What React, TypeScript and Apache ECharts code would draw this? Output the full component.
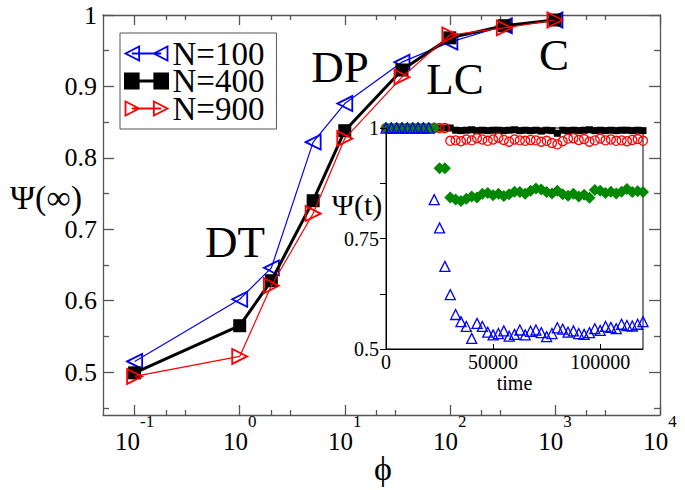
import React, { useEffect, useRef } from 'react';
import * as echarts from 'echarts';

// ---- main plot data ----
const phi = [0.1, 1, 2, 5, 10, 35, 100, 330, 1000];
const psiN100 = [0.515, 0.602, 0.646, 0.822, 0.876, 0.934, 0.962, 0.985, 0.993];
const psiN400 = [0.499, 0.565, 0.628, 0.74, 0.838, 0.923, 0.968, 0.985, 0.993];
const psiN900 = [0.494, 0.522, 0.621, 0.722, 0.827, 0.913, 0.972, 0.982, 0.993];

const xMajorTicks = [0.1, 1, 10, 100, 1000, 10000];
const xMinorTicks = [0.2, 0.3, 2, 3, 20, 30, 200, 300, 2000, 3000];
const yMajorTicks = [0.5, 0.6, 0.7, 0.8, 0.9, 1];
const yMinorTicks = [0.45, 0.55, 0.65, 0.75, 0.85, 0.95];

// ---- inset data ----
const insetTime = [
  0, 2500, 5000, 7500, 10000, 12500, 15000, 17500, 20000, 22500, 25000, 27500, 30000,
  32500, 35000, 37500, 40000, 42500, 45000, 47500, 50000, 52500, 55000, 57500, 60000,
  62500, 65000, 67500, 70000, 72500, 75000, 77500, 80000, 82500, 85000, 87500, 90000,
  92500, 95000, 97500, 100000, 102500, 105000, 107500, 110000, 112500, 115000, 117500, 120000,
];
const insetBlack = [
  1, 1, 1, 1, 1, 1, 1, 1, 1, 1, 1, 1, 1,
  0.995, 0.994, 0.995, 0.996, 0.994, 0.995, 0.994, 0.995, 0.995, 0.994, 0.995, 0.996,
  0.994, 0.995, 0.994, 0.995, 0.993, 0.995, 0.994, 0.988, 0.995, 0.994, 0.995, 0.994,
  0.995, 0.996, 0.994, 0.995, 0.994, 0.995, 0.994, 0.995, 0.995, 0.994, 0.995, 0.994,
];
const insetRed = [
  1, 1, 1, 1, 1, 1, 1, 1, 1, 1, 1, 1,
  0.971, 0.972, 0.97, 0.974, 0.972, 0.977, 0.974, 0.971, 0.974, 0.978, 0.973, 0.969,
  0.974, 0.972, 0.971, 0.973, 0.972, 0.969, 0.971, 0.966, 0.963, 0.97, 0.976, 0.977,
  0.973, 0.975, 0.969, 0.972, 0.976, 0.972, 0.974, 0.971, 0.972, 0.97, 0.973, 0.975, 0.971,
];
const insetGreen = [
  1, 1, 1, 1, 1, 1, 1, 1, 1, 1,
  0.909, 0.909, 0.843, 0.838, 0.835, 0.84, 0.845, 0.843, 0.851, 0.853, 0.848, 0.851,
  0.846, 0.85, 0.856, 0.855, 0.851, 0.858, 0.863, 0.861, 0.855, 0.852, 0.858, 0.85,
  0.847, 0.851, 0.845, 0.849, 0.842, 0.86, 0.858, 0.853, 0.856, 0.852, 0.856, 0.862,
  0.855, 0.857, 0.855,
];
const insetBlue = [
  1, 1, 1, 1, 1, 1, 1, 1, 1,
  0.838, 0.774, 0.687, 0.623, 0.578, 0.562, 0.551, 0.524, 0.558, 0.551, 0.538, 0.532,
  0.535, 0.541, 0.529, 0.533, 0.543, 0.532, 0.54, 0.543, 0.537, 0.528, 0.535, 0.548,
  0.545, 0.538, 0.541, 0.535, 0.533, 0.537, 0.546, 0.542, 0.551, 0.549, 0.546, 0.556,
  0.553, 0.552, 0.556, 0.562,
];

const FONT = 'Liberation Serif';
const AXIS_GRAY = '#555';
const BLUE = '#0000ff';
const RED = '#ff0000';
const GREEN = '#008800';

const pairs = (xs: number[], ys: number[]) => xs.map((x, i) => [x, ys[i]]);

export default function App() {
  const ref = useRef<HTMLDivElement>(null);
  useEffect(() => {
    if (!ref.current) return;
    const chart = echarts.init(ref.current, undefined, { renderer: 'svg' });
    const axLine = { color: AXIS_GRAY, width: 1.3 };
    const logBase = { type: 'log', logBase: 10, gridIndex: 0, min: 0.05, max: 10000, splitLine: { show: false } };
    const yBase = { type: 'value', gridIndex: 0, min: 0.44, max: 1, splitLine: { show: false } };
    const option: any = {
      animation: false,
      backgroundColor: '#ffffff',
      textStyle: { fontFamily: FONT },
      grid: [
        { left: 103, top: 15, width: 557, height: 400, show: false },
        {
          left: 386, top: 128, width: 257, height: 221, show: true,
          backgroundColor: '#ffffff', borderColor: '#000', borderWidth: 1, z: 8,
        },
      ],
      xAxis: [
        {
          ...logBase, position: 'bottom',
          axisLine: { show: true, lineStyle: axLine },
          axisTick: { show: true, inside: true, length: 10, customValues: xMajorTicks, lineStyle: axLine },
          axisLabel: {
            show: true, customValues: xMajorTicks, margin: 14,
            formatter: (v: number) => `{b|10}{s|${Math.round(Math.log10(v))}}`,
            rich: {
              b: { fontSize: 25, fontFamily: FONT, color: '#000', lineHeight: 25 },
              s: { fontSize: 17, fontFamily: FONT, color: '#000', lineHeight: 17, padding: [0, 0, 40, 0] },
            },
          },
        },
        {
          ...logBase, position: 'bottom',
          axisLine: { show: false },
          axisTick: { show: true, inside: true, length: 5, customValues: xMinorTicks, lineStyle: axLine },
          axisLabel: { show: false },
        },
        {
          ...logBase, position: 'top',
          axisLine: { show: true, lineStyle: axLine },
          axisTick: { show: true, inside: true, length: 10, customValues: xMajorTicks, lineStyle: axLine },
          axisLabel: { show: false },
        },
        {
          ...logBase, position: 'top',
          axisLine: { show: false },
          axisTick: { show: true, inside: true, length: 5, customValues: xMinorTicks, lineStyle: axLine },
          axisLabel: { show: false },
        },
        {
          type: 'value', gridIndex: 1, min: 0, max: 120000, interval: 50000, z: 10,
          splitLine: { show: false },
          axisLine: { show: true, lineStyle: { color: '#000', width: 1 } },
          axisTick: { show: true, inside: true, length: 5, lineStyle: { color: '#000' } },
          axisLabel: {
            fontSize: 20, color: '#000', margin: 3, showMaxLabel: false,
            formatter: (v: number) => String(v),
          },
          name: 'time', nameLocation: 'middle', nameGap: 22,
          nameTextStyle: { fontSize: 20, color: '#000', fontFamily: FONT },
        },
      ],
      yAxis: [
        {
          ...yBase, position: 'left',
          axisLine: { show: true, lineStyle: axLine },
          axisTick: { show: true, inside: true, length: 11, customValues: yMajorTicks, lineStyle: axLine },
          axisLabel: {
            show: true, customValues: yMajorTicks, margin: 6, fontSize: 26, color: '#000',
            formatter: (v: number) => (Math.abs(v - 1) < 1e-9 ? '1' : v.toFixed(1)),
          },
        },
        {
          ...yBase, position: 'left',
          axisLine: { show: false },
          axisTick: { show: true, inside: true, length: 6, customValues: yMinorTicks, lineStyle: axLine },
          axisLabel: { show: false },
        },
        {
          ...yBase, position: 'right',
          axisLine: { show: true, lineStyle: axLine },
          axisTick: { show: true, inside: true, length: 11, customValues: yMajorTicks, lineStyle: axLine },
          axisLabel: { show: false },
        },
        {
          ...yBase, position: 'right',
          axisLine: { show: false },
          axisTick: { show: true, inside: true, length: 6, customValues: yMinorTicks, lineStyle: axLine },
          axisLabel: { show: false },
        },
        {
          type: 'value', gridIndex: 1, min: 0.5, max: 1, interval: 0.25, position: 'left', z: 10,
          splitLine: { show: false },
          axisLine: { show: true, lineStyle: { color: '#000', width: 1 } },
          axisTick: { show: true, inside: false, length: 6, lineStyle: { color: '#000' } },
          minorTick: { show: true, splitNumber: 2, length: 6, lineStyle: { color: '#000' } },
          axisLabel: { fontSize: 20, color: '#000', margin: 7, formatter: (v: number) => String(v) },
        },
      ],
      legend: {
        left: 120, top: 33, orient: 'vertical',
        backgroundColor: '#fff', borderColor: AXIS_GRAY, borderWidth: 1,
        padding: [4, 12, 4, 4], itemGap: -5.5, itemWidth: 42, itemHeight: 14,
        symbolKeepAspect: false,
        textStyle: { fontSize: 33, color: '#000', fontFamily: FONT },
        data: [
          {
            name: 'N=100',
            icon: 'path://M0,7L13,0L13,14Z M6,7L34,7 M27,7L40,0L40,14Z',
            itemStyle: { color: 'rgba(0,0,0,0)', borderColor: BLUE, borderWidth: 1.8 },
          },
          {
            name: 'N=400',
            icon: 'path://M0,1L12,1L12,13L0,13Z M6,7L34,7 M28,1L40,1L40,13L28,13Z',
            itemStyle: { color: '#000', borderColor: '#000', borderWidth: 3 },
          },
          {
            name: 'N=900',
            icon: 'path://M0,0L13,7L0,14Z M6,7L34,7 M27,0L40,7L27,14Z',
            itemStyle: { color: 'rgba(0,0,0,0)', borderColor: RED, borderWidth: 1.8 },
          },
        ],
      },
      series: [
        {
          name: 'N=100', type: 'line', xAxisIndex: 0, yAxisIndex: 0, z: 2,
          data: pairs(phi, psiN100),
          symbol: 'triangle', symbolRotate: 90, symbolSize: 15,
          itemStyle: { color: 'rgba(0,0,0,0)', borderColor: BLUE, borderWidth: 1.8 },
          lineStyle: { color: BLUE, width: 1.2 },
        },
        {
          name: 'N=400', type: 'line', xAxisIndex: 0, yAxisIndex: 0, z: 3,
          data: pairs(phi, psiN400),
          symbol: 'rect', symbolSize: 13,
          itemStyle: { color: '#000' },
          lineStyle: { color: '#000', width: 3 },
        },
        {
          name: 'N=900', type: 'line', xAxisIndex: 0, yAxisIndex: 0, z: 4,
          data: pairs(phi, psiN900),
          symbol: 'triangle', symbolRotate: -90, symbolSize: 15,
          itemStyle: { color: 'rgba(0,0,0,0)', borderColor: RED, borderWidth: 1.8 },
          lineStyle: { color: RED, width: 1.2 },
        },
        {
          name: 'inset-black', type: 'scatter', xAxisIndex: 4, yAxisIndex: 4, z: 9,
          data: pairs(insetTime, insetBlack),
          symbol: 'rect', symbolSize: 7,
          itemStyle: { color: '#000', opacity: 1 },
        },
        {
          name: 'inset-red', type: 'scatter', xAxisIndex: 4, yAxisIndex: 4, z: 9,
          data: pairs(insetTime, insetRed),
          symbol: 'circle', symbolSize: 9,
          itemStyle: { color: 'rgba(0,0,0,0)', borderColor: RED, borderWidth: 1.3, opacity: 1 },
        },
        {
          name: 'inset-green', type: 'scatter', xAxisIndex: 4, yAxisIndex: 4, z: 9,
          data: pairs(insetTime, insetGreen),
          symbol: 'diamond', symbolSize: 12,
          itemStyle: { color: GREEN, opacity: 1 },
        },
        {
          name: 'inset-blue', type: 'scatter', xAxisIndex: 4, yAxisIndex: 4, z: 9,
          data: pairs(insetTime, insetBlue),
          symbol: 'triangle', symbolSize: 10,
          itemStyle: { color: 'rgba(0,0,0,0)', borderColor: BLUE, borderWidth: 1.3, opacity: 1 },
        },
      ],
      graphic: [
        { type: 'text', x: 46, y: 197, z: 20, style: { text: 'Ψ(∞)', fontSize: 34, fontFamily: FONT, fill: '#000', align: 'center', verticalAlign: 'middle' } },
        { type: 'text', x: 383, y: 468, z: 20, style: { text: 'ϕ', fontSize: 34, fontFamily: FONT, fill: '#000', align: 'center', verticalAlign: 'middle' } },
        { type: 'text', x: 235, y: 242, z: 20, style: { text: 'DT', fontSize: 45, fontFamily: FONT, fill: '#000', align: 'center', verticalAlign: 'middle' } },
        { type: 'text', x: 340, y: 67, z: 20, style: { text: 'DP', fontSize: 45, fontFamily: FONT, fill: '#000', align: 'center', verticalAlign: 'middle' } },
        { type: 'text', x: 455, y: 79, z: 20, style: { text: 'LC', fontSize: 45, fontFamily: FONT, fill: '#000', align: 'center', verticalAlign: 'middle' } },
        { type: 'text', x: 554, y: 55, z: 20, style: { text: 'C', fontSize: 45, fontFamily: FONT, fill: '#000', align: 'center', verticalAlign: 'middle' } },
        { type: 'text', x: 357, y: 204, z: 20, style: { text: 'Ψ(t)', fontSize: 30, fontFamily: FONT, fill: '#000', align: 'center', verticalAlign: 'middle' } },
      ],
    };
    chart.setOption(option);
    return () => chart.dispose();
  }, []);
  return <div ref={ref} style={{ position: 'fixed', left: 0, top: 0, width: 685, height: 490 }} />;
}
